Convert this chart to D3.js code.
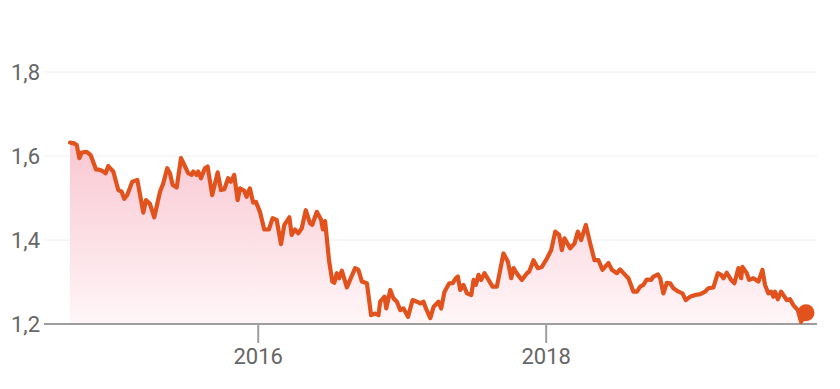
<!DOCTYPE html>
<html>
<head>
<meta charset="utf-8">
<script src="https://cdn.jsdelivr.net/npm/d3@7"></script>
<style>
  html, body { margin: 0; padding: 0; background: #fff; }
  svg { display: block; font-family: Roboto, "Noto Sans", sans-serif; }
</style>
</head>
<body>
<svg id="chart" width="840" height="389"></svg>
<script>
// time as decimal years
var timePoints = [
  2014.691, 2014.719, 2014.738, 2014.756, 2014.772, 2014.807, 2014.835, 2014.872, 2014.900, 2014.923,
  2014.939, 2014.957, 2014.992, 2015.027, 2015.050, 2015.068, 2015.089, 2015.124, 2015.159, 2015.201,
  2015.219, 2015.247, 2015.277, 2015.317, 2015.340, 2015.367, 2015.386, 2015.405, 2015.433, 2015.463,
  2015.483, 2015.513, 2015.537, 2015.548, 2015.572, 2015.583, 2015.602, 2015.629, 2015.648, 2015.680,
  2015.718, 2015.741, 2015.764, 2015.791, 2015.810, 2015.833, 2015.857, 2015.873, 2015.903, 2015.919,
  2015.942, 2015.965, 2015.984, 2016.012, 2016.042, 2016.074, 2016.100, 2016.128, 2016.158, 2016.181,
  2016.216, 2016.232, 2016.255, 2016.278, 2016.302, 2016.330, 2016.359, 2016.375, 2016.406, 2016.436,
  2016.448, 2016.464, 2016.491, 2016.514, 2016.528, 2016.545, 2016.561, 2016.580, 2016.615, 2016.637,
  2016.672, 2016.695, 2016.719, 2016.754, 2016.783, 2016.811, 2016.834, 2016.846, 2016.876, 2016.888,
  2016.916, 2016.938, 2016.962, 2016.985, 2017.008, 2017.039, 2017.071, 2017.101, 2017.124, 2017.147,
  2017.164, 2017.194, 2017.217, 2017.251, 2017.270, 2017.293, 2017.326, 2017.349, 2017.372, 2017.386,
  2017.402, 2017.425, 2017.449, 2017.479, 2017.495, 2017.511, 2017.529, 2017.548, 2017.571, 2017.599,
  2017.627, 2017.657, 2017.703, 2017.734, 2017.757, 2017.773, 2017.803, 2017.831, 2017.866, 2017.882,
  2017.912, 2017.942, 2017.970, 2018.005, 2018.035, 2018.063, 2018.090, 2018.109, 2018.127, 2018.167,
  2018.197, 2018.220, 2018.243, 2018.276, 2018.306, 2018.336, 2018.364, 2018.391, 2018.433, 2018.457,
  2018.492, 2018.514, 2018.549, 2018.572, 2018.607, 2018.631, 2018.654, 2018.676, 2018.700, 2018.730,
  2018.746, 2018.777, 2018.793, 2018.815, 2018.839, 2018.862, 2018.885, 2018.920, 2018.948, 2018.971,
  2019.001, 2019.036, 2019.071, 2019.105, 2019.128, 2019.163, 2019.194, 2019.217, 2019.233, 2019.256,
  2019.286, 2019.309, 2019.337, 2019.356, 2019.365, 2019.395, 2019.411, 2019.441, 2019.476, 2019.504,
  2019.522, 2019.545, 2019.564, 2019.580, 2019.592, 2019.611, 2019.634, 2019.657, 2019.673, 2019.696,
  2019.719, 2019.750, 2019.773, 2019.796, 2019.807
];
var rates = [
  1.632, 1.630, 1.626, 1.595, 1.608, 1.610, 1.602, 1.568, 1.567, 1.563,
  1.559, 1.576, 1.563, 1.519, 1.515, 1.498, 1.507, 1.539, 1.543, 1.465,
  1.495, 1.486, 1.454, 1.515, 1.535, 1.571, 1.559, 1.531, 1.525, 1.595,
  1.581, 1.559, 1.555, 1.563, 1.555, 1.563, 1.547, 1.571, 1.575, 1.507,
  1.561, 1.519, 1.521, 1.547, 1.539, 1.555, 1.495, 1.523, 1.517, 1.503,
  1.523, 1.489, 1.491, 1.467, 1.425, 1.425, 1.452, 1.448, 1.390, 1.436,
  1.454, 1.412, 1.425, 1.416, 1.428, 1.471, 1.440, 1.436, 1.467, 1.449,
  1.425, 1.445, 1.352, 1.301, 1.298, 1.321, 1.309, 1.327, 1.287, 1.305,
  1.333, 1.329, 1.301, 1.297, 1.221, 1.225, 1.221, 1.253, 1.265, 1.237,
  1.281, 1.261, 1.253, 1.233, 1.237, 1.217, 1.257, 1.253, 1.249, 1.253,
  1.237, 1.214, 1.241, 1.253, 1.237, 1.277, 1.297, 1.297, 1.309, 1.313,
  1.281, 1.293, 1.273, 1.269, 1.305, 1.293, 1.317, 1.305, 1.321, 1.305,
  1.289, 1.289, 1.368, 1.348, 1.309, 1.333, 1.317, 1.305, 1.321, 1.325,
  1.352, 1.333, 1.336, 1.356, 1.376, 1.420, 1.412, 1.376, 1.404, 1.380,
  1.392, 1.420, 1.400, 1.436, 1.392, 1.352, 1.352, 1.329, 1.345, 1.329,
  1.321, 1.330, 1.317, 1.309, 1.277, 1.277, 1.289, 1.293, 1.306, 1.305,
  1.313, 1.318, 1.309, 1.273, 1.298, 1.297, 1.285, 1.277, 1.273, 1.257,
  1.265, 1.269, 1.271, 1.277, 1.285, 1.287, 1.321, 1.317, 1.309, 1.322,
  1.305, 1.297, 1.333, 1.309, 1.336, 1.321, 1.305, 1.309, 1.301, 1.329,
  1.293, 1.273, 1.277, 1.265, 1.277, 1.259, 1.277, 1.265, 1.257, 1.259,
  1.245, 1.233, 1.205, 1.221, 1.227
];
var yTicks = [1.2, 1.4, 1.6, 1.8];
var xTickYears = [2016, 2018];

function toDate(t) {
  var y = Math.floor(t);
  var a = new Date(y, 0, 1), b = new Date(y + 1, 0, 1);
  return new Date(+a + (t - y) * (b - a));
}

var data = timePoints.map(function (t, i) {
  return { date: toDate(t), value: rates[i] };
});

var svg = d3.select("#chart");
var lineColor = "#e2521d";

var x = d3.scaleTime()
  .domain(d3.extent(data, function (d) { return d.date; }))
  .range([70, 806]);
var y = d3.scaleLinear().domain([1.2, 1.8]).range([324, 72]);

var gridLeft = 44, gridRight = 817;

// gradient for the area
var grad = svg.append("defs").append("linearGradient")
  .attr("id", "areaFill")
  .attr("gradientUnits", "userSpaceOnUse")
  .attr("x1", 0).attr("x2", 0)
  .attr("y1", y(1.64)).attr("y2", y(1.2));
grad.append("stop").attr("offset", "0%").attr("stop-color", "#f9c6d1");
grad.append("stop").attr("offset", "100%").attr("stop-color", "#fff6f8");

// grid lines
svg.append("g").selectAll("line")
  .data(yTicks.slice(1))
  .enter().append("line")
  .attr("x1", gridLeft).attr("x2", gridRight)
  .attr("y1", function (d) { return y(d); })
  .attr("y2", function (d) { return y(d); })
  .attr("stroke", "#eeeeee")
  .attr("stroke-width", 1);

// y labels
svg.append("g").selectAll("text")
  .data(yTicks)
  .enter().append("text")
  .attr("x", 40)
  .attr("y", function (d) { return y(d); })
  .attr("dy", "0.36em")
  .attr("text-anchor", "end")
  .attr("font-size", 22)
  .attr("fill", "#666666")
  .text(function (d) { return d.toFixed(1).replace(".", ","); });

// area and line
var area = d3.area()
  .x(function (d) { return x(d.date); })
  .y0(y(1.2))
  .y1(function (d) { return y(d.value); });
svg.append("path").datum(data)
  .attr("d", area)
  .attr("fill", "url(#areaFill)");

// baseline
svg.append("line")
  .attr("x1", gridLeft).attr("x2", gridRight)
  .attr("y1", y(1.2)).attr("y2", y(1.2))
  .attr("stroke", "#9e9e9e")
  .attr("stroke-width", 2);

// x ticks
var xt = svg.append("g").selectAll("g")
  .data(xTickYears)
  .enter().append("g")
  .attr("transform", function (d) { return "translate(" + x(new Date(d, 0, 1)) + ",0)"; });
xt.append("line")
  .attr("y1", y(1.2)).attr("y2", y(1.2) + 19)
  .attr("stroke", "#9e9e9e")
  .attr("stroke-width", 2);
xt.append("text")
  .attr("y", 364)
  .attr("text-anchor", "middle")
  .attr("font-size", 22)
  .attr("fill", "#666666")
  .text(function (d) { return d; });

var line = d3.line()
  .x(function (d) { return x(d.date); })
  .y(function (d) { return y(d.value); });
svg.append("path").datum(data)
  .attr("d", line)
  .attr("fill", "none")
  .attr("stroke", lineColor)
  .attr("stroke-width", 4.2)
  .attr("stroke-linejoin", "round")
  .attr("stroke-linecap", "round");

var last = data[data.length - 1];
svg.append("circle")
  .attr("cx", x(last.date))
  .attr("cy", y(last.value))
  .attr("r", 8.5)
  .attr("fill", lineColor);
</script>
</body>
</html>
